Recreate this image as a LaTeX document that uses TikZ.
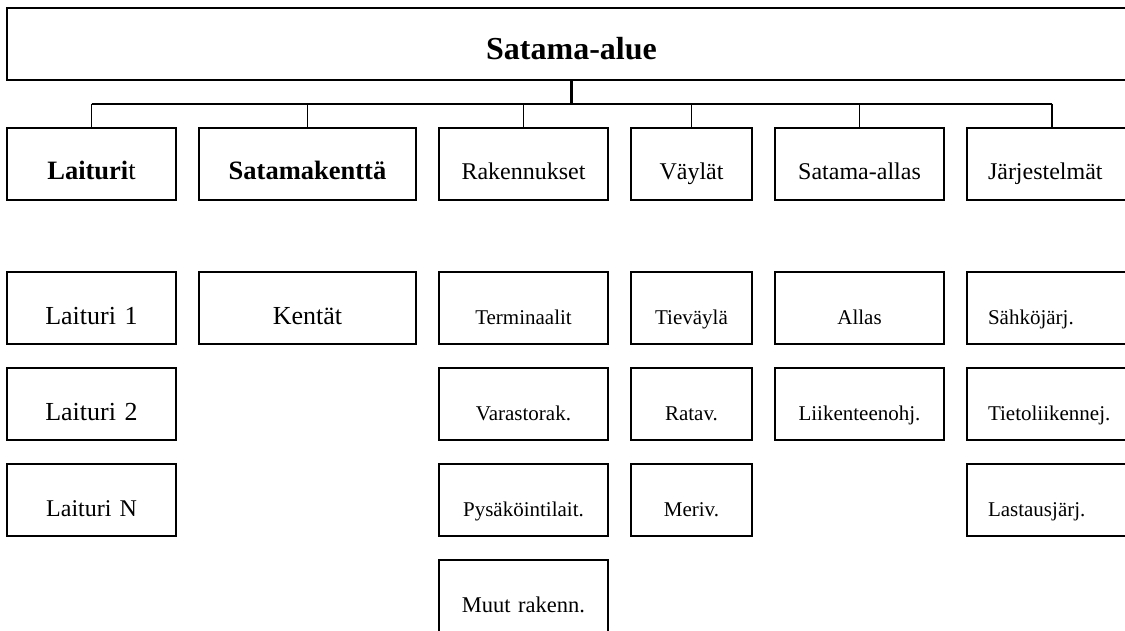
\documentclass[tikz,border=0pt]{standalone}
\usepackage{fontspec}
\setmainfont{Liberation Serif}
\begin{document}
\begin{tikzpicture}[x=1pt,y=-1pt,
  box/.style={draw=black, line width=2pt, inner sep=0pt, fill=white,
    minimum width=#1, text width=#1, align=center,
    text height=52pt, text depth=20pt},
  lbox/.style={box=#1, align=left},
  titlefont/.style={font=\fontsize{32}{38}\selectfont\bfseries},
  headb/.style={font=\fontsize{26.5}{32}\selectfont\bfseries},
  headr/.style={font=\fontsize{24}{29}\selectfont},
  itembig/.style={font=\fontsize{26}{31}\selectfont},
  itemmid/.style={font=\fontsize{24}{29}\selectfont},
  item/.style={font=\fontsize{21}{25}\selectfont},
  trunk/.style={line width=2.5pt},
  bus/.style={line width=2pt},
  branch/.style={line width=1.5pt}]
\useasboundingbox (0,0) rectangle (1125,630);
\fill[white] (0,0) rectangle (1125,630);
\clip (0,0) rectangle (1125,630);

% top level
\node[box=1129pt, titlefont, text height=51.5pt, text depth=20.5pt] (top) at (571.5,43.5) {Satama-alue};

% main categories
\node[box=169pt, headb] (lait) at (91.5,163.5) {Laituri\textmd{t}};
\node[box=217pt, headb] (kent) at (307.5,163.5) {Satamakenttä};
\node[box=169pt, headr] (rak)  at (523.5,163.5) {Rakennukset};
\node[box=121pt, headr] (vay)  at (691.5,163.5) {Väylät};
\node[box=169pt, headr] (all)  at (859.5,163.5) {Satama-allas};
\node[lbox=170pt, headr] (jar) at (1052,163.5) {\hspace*{21pt}Järjestelmät};

% connectors
\coordinate (bus) at (571.5,103.5);
\draw[trunk] (top.south) -- (bus);
\draw[bus] (lait.north |- bus) -- (jar.north |- bus);
\foreach \n in {lait,kent,rak,vay,all,jar}
  \draw[branch] (\n.north |- bus) -- (\n.north);

% Laiturit
\node[box=169pt, itembig] (l1) at (91.5,308) {Laituri 1};
\node[box=169pt, itembig] (l2) at (91.5,404) {Laituri 2};
\node[box=169pt, itemmid] (ln) at (91.5,500) {Laituri N};

% Satamakenttä
\node[box=217pt, itembig] (k1) at (307.5,308) {Kentät};

% Rakennukset
\node[box=169pt, item] (r1) at (523.5,308) {Terminaalit};
\node[box=169pt, item] (r2) at (523.5,404) {Varastorak.};
\node[box=169pt, item] (r3) at (523.5,500) {Pysäköintilait.};
\node[box=169pt, item, font=\fontsize{22.5}{27}\selectfont] (r4) at (523.5,596) {Muut rakenn.};

% Väylät
\node[box=121pt, item] (v1) at (691.5,308) {Tieväylä};
\node[box=121pt, item] (v2) at (691.5,404) {Ratav.};
\node[box=121pt, item] (v3) at (691.5,500) {Meriv.};

% Satama-allas
\node[box=169pt, item] (a1) at (859.5,308) {Allas};
\node[box=169pt, item] (a2) at (859.5,404) {Liikenteenohj.};

% Järjestelmät
\node[lbox=170pt, item] (j1) at (1052,308) {\hspace*{21pt}Sähköjärj.};
\node[lbox=170pt, item] (j2) at (1052,404) {\hspace*{21pt}Tietoliikennej.};
\node[lbox=170pt, item] (j3) at (1052,500) {\hspace*{21pt}Lastausjärj.};
\end{tikzpicture}
\end{document}
